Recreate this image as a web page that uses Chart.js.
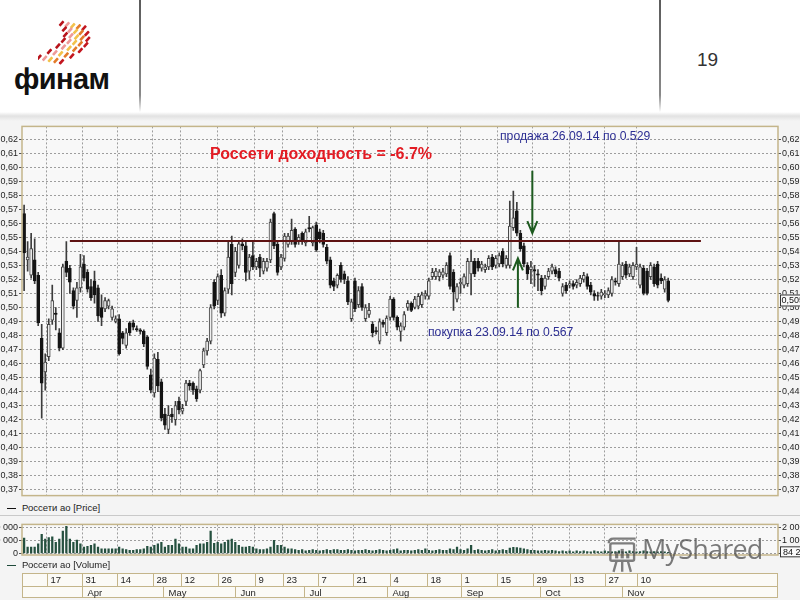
<!DOCTYPE html>
<html>
<head>
<meta charset="utf-8">
<script src="https://cdn.jsdelivr.net/npm/chart.js@4/dist/chart.umd.min.js"></script>
<style>
  html, body { margin: 0; padding: 0; background: #ffffff; }
  #page { position: relative; width: 800px; height: 600px; overflow: hidden; background: #ffffff;
          font-family: 'Liberation Sans', Arial, sans-serif; }
  .abs { position: absolute; }
  .vline { position: absolute; top: 0; width: 2px; height: 112px; background: linear-gradient(#5a5a5a, #8a8a8a 85%, rgba(140,140,140,0)); }
  #band { left: 0; top: 112px; width: 800px; height: 9px; background: linear-gradient(#ffffff, #e2e2e2 45%, #f4f4f4); }
  #panel { left: 0; top: 121px; width: 800px; height: 479px; background: #f4f4f4; }
  #pageNo { left: 697px; top: 49px; font-size: 19px; color: #333; }
  #brand { left: 14px; top: 63px; font-size: 29px; font-weight: bold; color: #111; letter-spacing: -0.6px; }
  #title { left: 210px; top: 145px; font-size: 16px; font-weight: bold; color: #e31b23; white-space: nowrap; }
  .note { font-size: 12.2px; color: #2d2f93; white-space: nowrap; }
  #sellNote { left: 500px; top: 129px; }
  #buyNote { left: 428px; top: 325px; }
  .legend { font-size: 9.5px; color: #222; white-space: nowrap; }
  .legend b { display: inline-block; width: 9px; height: 1.5px; vertical-align: middle; margin: 0 6px 0 0; }
  #legPrice { left: 7px; top: 502px; }
  #legVol { left: 7px; top: 559px; }
  #sep { left: 0; top: 515px; width: 800px; height: 1px; background: #c9c9c9; }
  #priceWrap { left: 0; top: 120px; }
  #volWrap { left: -32px; top: 518px; }
  #mark { left: 607px; top: 537px; opacity: 0.72; }
  #markText { left: 642px; top: 530px; font-family: 'Open Sans', 'DejaVu Sans', sans-serif; font-size: 27px; color: #4f4f4f; opacity: 0.75; letter-spacing: -0.8px; }
</style>
</head>
<body>
<div id="page">
  <div class="abs" id="panel"></div>
  <div class="abs" id="band"></div>
  <div class="vline" style="left:139px"></div>
  <div class="vline" style="left:659px"></div>

  <svg class="abs" id="emblem" style="left:38px;top:18px" width="58" height="48" viewBox="0 0 62 50"></svg>
  <div class="abs" id="brand">финам</div>
  <div class="abs" id="pageNo">19</div>

  <div class="abs" id="priceWrap"><canvas id="priceChart" width="800" height="382"></canvas></div>
  <div class="abs" id="sep"></div>
  <div class="abs legend" id="legPrice"><b style="background:#111"></b>Россети ао [Price]</div>
  <div class="abs" id="volWrap"><canvas id="volChart" width="864" height="82"></canvas></div>
  <div class="abs legend" id="legVol"><b style="background:#1f4a3a"></b>Россети ао [Volume]</div>

  <div class="abs" id="title">Россети доходность = -6.7%</div>
  <div class="abs note" id="sellNote">продажа 26.09.14 по 0.529</div>
  <div class="abs note" id="buyNote">покупка 23.09.14 по 0.567</div>

  <svg class="abs" id="mark" width="32" height="38" viewBox="0 0 40 48">
    <rect x="4" y="8" width="30" height="22" rx="2" fill="none" stroke="#4f4f4f" stroke-width="3"/>
    <path d="M2 8 Q2 2 8 2 L36 2" fill="none" stroke="#4f4f4f" stroke-width="3"/>
    <rect x="10" y="19" width="4" height="8" fill="#4f4f4f"/>
    <rect x="17" y="15" width="4" height="12" fill="#4f4f4f"/>
    <rect x="24" y="21" width="4" height="6" fill="#4f4f4f"/>
    <path d="M12 30 L8 44 M19 30 L19 44 M26 30 L30 44" stroke="#4f4f4f" stroke-width="3"/>
  </svg>
  <div class="abs" id="markText">MyShared</div>
</div>

<script>
// ---- Daily candles, Россети ао (trading-day index 0 = first session shown) ----
const candleOpen = [
  0.567,0.534,0.523,0.534,0.523,0.478,0.454,0.465,0.491,0.496,
  0.482,0.471,0.533,0.528,0.512,0.505,0.514,0.531,0.525,0.515,
  0.519,0.514,0.500,0.499,0.501,0.493,0.490,0.492,0.482,0.473,
  0.489,0.489,0.485,0.484,0.483,0.479,0.452,0.439,0.463,0.447,
  0.424,0.413,0.424,0.420,0.433,0.426,0.433,0.446,0.446,0.442,
  0.441,0.459,0.469,0.476,0.518,0.505,0.523,0.496,0.513,0.545,
  0.525,0.530,0.5455,0.544,0.526,0.537,0.529,0.536,0.526,0.528,
  0.534,0.567,0.545,0.529,0.535,0.545,0.547,0.556,0.547,0.553,
  0.546,0.557,0.546,0.559,0.554,0.553,0.543,0.534,0.519,0.516,
  0.530,0.524,0.519,0.492,0.519,0.502,0.515,0.492,0.495,0.488,
  0.4835,0.476,0.4895,0.482,0.493,0.506,0.493,0.483,0.486,0.500,
  0.503,0.500,0.501,0.502,0.508,0.508,0.522,0.522,0.522,0.523,
  0.524,0.537,0.525,0.506,0.517,0.516,0.517,0.524,0.533,0.533,
  0.528,0.527,0.529,0.536,0.530,0.531,0.540,0.530,0.530,0.557,
  0.569,0.553,0.544,0.530,0.527,0.527,0.524,0.521,0.515,0.522,
  0.526,0.527,0.526,0.510,0.516,0.516,0.517,0.516,0.517,0.520,
  0.522,0.516,0.510,0.5085,0.508,0.509,0.509,0.510,0.519,0.517,
  0.522,0.531,0.524,0.522,0.529,0.516,0.528,0.526,0.522,0.529,
  0.531,0.521,0.513,0.519
];
const candleHigh = [
  0.573,0.547,0.553,0.549,0.525,0.488,0.467,0.492,0.516,0.500,
  0.485,0.531,0.547,0.530,0.514,0.518,0.538,0.537,0.527,0.520,
  0.526,0.516,0.509,0.507,0.506,0.501,0.494,0.495,0.483,0.485,
  0.490,0.491,0.487,0.485,0.484,0.480,0.456,0.467,0.468,0.449,
  0.428,0.430,0.428,0.433,0.436,0.431,0.448,0.448,0.447,0.444,
  0.456,0.471,0.478,0.502,0.520,0.524,0.527,0.514,0.547,0.551,
  0.543,0.548,0.549,0.547,0.538,0.548,0.535,0.538,0.535,0.535,
  0.563,0.568,0.547,0.538,0.553,0.553,0.563,0.557,0.552,0.554,
  0.556,0.565,0.558,0.561,0.556,0.555,0.545,0.536,0.521,0.524,
  0.532,0.526,0.522,0.506,0.521,0.515,0.517,0.502,0.503,0.490,
  0.486,0.492,0.491,0.494,0.508,0.507,0.494,0.489,0.497,0.505,
  0.504,0.508,0.510,0.511,0.512,0.521,0.528,0.528,0.527,0.528,
  0.532,0.539,0.527,0.517,0.521,0.524,0.535,0.541,0.535,0.535,
  0.533,0.531,0.537,0.538,0.537,0.539,0.542,0.537,0.576,0.583,
  0.575,0.555,0.546,0.532,0.533,0.530,0.527,0.523,0.523,0.528,
  0.531,0.529,0.528,0.517,0.518,0.519,0.519,0.520,0.523,0.525,
  0.524,0.518,0.512,0.511,0.513,0.512,0.514,0.522,0.521,0.548,
  0.532,0.533,0.531,0.532,0.543,0.531,0.530,0.528,0.532,0.531,
  0.533,0.524,0.522,0.521
];
const candleLow = [
  0.512,0.526,0.521,0.517,0.487,0.421,0.441,0.462,0.488,0.484,
  0.469,0.470,0.522,0.510,0.499,0.493,0.511,0.519,0.511,0.505,
  0.503,0.490,0.487,0.497,0.499,0.491,0.489,0.466,0.474,0.471,
  0.480,0.484,0.483,0.481,0.472,0.456,0.439,0.436,0.440,0.419,
  0.413,0.410,0.418,0.416,0.424,0.424,0.430,0.441,0.438,0.433,
  0.439,0.457,0.466,0.474,0.499,0.502,0.493,0.494,0.510,0.509,
  0.522,0.528,0.541,0.519,0.520,0.527,0.527,0.522,0.524,0.526,
  0.532,0.542,0.523,0.527,0.533,0.543,0.545,0.543,0.545,0.545,
  0.544,0.554,0.544,0.540,0.546,0.543,0.531,0.514,0.512,0.514,
  0.518,0.517,0.502,0.490,0.497,0.500,0.498,0.490,0.493,0.479,
  0.481,0.474,0.486,0.480,0.491,0.491,0.484,0.476,0.484,0.498,
  0.497,0.499,0.499,0.500,0.506,0.506,0.520,0.520,0.519,0.521,
  0.522,0.513,0.498,0.504,0.510,0.514,0.515,0.509,0.522,0.526,
  0.526,0.525,0.527,0.527,0.528,0.529,0.529,0.528,0.528,0.555,
  0.551,0.540,0.529,0.520,0.517,0.515,0.512,0.509,0.513,0.520,
  0.524,0.522,0.519,0.508,0.510,0.514,0.513,0.514,0.515,0.518,
  0.513,0.509,0.505,0.505,0.506,0.507,0.507,0.508,0.516,0.515,
  0.520,0.521,0.522,0.520,0.527,0.514,0.509,0.509,0.520,0.515,
  0.514,0.517,0.511,0.504
];
const candleClose = [
  0.539,0.536,0.542,0.519,0.489,0.446,0.461,0.488,0.505,0.495,
  0.471,0.529,0.525,0.518,0.501,0.514,0.529,0.521,0.513,0.507,
  0.509,0.494,0.493,0.505,0.505,0.499,0.492,0.467,0.478,0.482,
  0.482,0.486,0.484,0.483,0.474,0.458,0.441,0.464,0.444,0.421,
  0.416,0.423,0.422,0.430,0.427,0.428,0.446,0.444,0.441,0.435,
  0.455,0.469,0.476,0.500,0.501,0.522,0.496,0.512,0.536,0.517,
  0.540,0.5455,0.544,0.525,0.536,0.529,0.533,0.528,0.533,0.533,
  0.561,0.544,0.525,0.536,0.551,0.551,0.555,0.545,0.550,0.547,
  0.554,0.556,0.557,0.541,0.549,0.545,0.533,0.516,0.515,0.523,
  0.520,0.520,0.504,0.504,0.499,0.512,0.500,0.500,0.498,0.482,
  0.4825,0.490,0.488,0.4925,0.506,0.493,0.486,0.487,0.495,0.503,
  0.498,0.506,0.508,0.509,0.510,0.519,0.525,0.526,0.5255,0.5255,
  0.530,0.515,0.511,0.515,0.518,0.522,0.533,0.533,0.524,0.528,
  0.531,0.529,0.535,0.529,0.535,0.537,0.531,0.535,0.558,0.564,
  0.553,0.542,0.531,0.524,0.529,0.526,0.523,0.512,0.521,0.526,
  0.529,0.524,0.521,0.515,0.512,0.517,0.515,0.518,0.521,0.523,
  0.515,0.511,0.508,0.508,0.511,0.510,0.512,0.520,0.518,0.531,
  0.530,0.523,0.529,0.530,0.531,0.529,0.510,0.510,0.530,0.517,
  0.516,0.519,0.520,0.505
];
// Daily volume, shares
const volume = [
  1170000,490000,490000,490000,730000,1460000,1100000,1220000,1270000,850000,
  1100000,1710000,2070000,1100000,850000,1020000,730000,490000,540000,610000,
  730000,490000,360000,360000,360000,360000,360000,490000,360000,290000,
  240000,240000,290000,290000,360000,540000,490000,610000,730000,850000,
  490000,610000,610000,1100000,730000,490000,490000,360000,360000,610000,
  730000,730000,850000,1710000,780000,850000,730000,850000,1020000,1100000,
  850000,610000,490000,490000,540000,490000,360000,290000,290000,360000,
  490000,1000000,610000,610000,490000,360000,360000,290000,240000,290000,
  190000,240000,290000,240000,190000,240000,290000,240000,290000,290000,
  240000,240000,290000,240000,190000,240000,240000,290000,240000,190000,
  240000,290000,240000,190000,240000,290000,360000,190000,240000,240000,
  190000,240000,290000,240000,360000,240000,190000,240000,290000,240000,
  240000,360000,290000,490000,290000,240000,360000,610000,240000,290000,
  240000,190000,240000,290000,190000,240000,290000,240000,410000,460000,
  440000,410000,360000,290000,240000,240000,190000,190000,240000,190000,
  240000,190000,150000,190000,150000,190000,120000,190000,150000,190000,
  150000,120000,190000,150000,120000,190000,150000,120000,150000,190000,
  150000,120000,190000,150000,120000,150000,190000,150000,120000,150000,
  120000,150000,120000,84250
];

// ---- Axis ticks ----
const priceTicks = [];
for (let k = 37; k <= 62; k++) priceTicks.push(k / 100);
const volumeTicks = [0, 1000000, 2000000];
// fortnightly session marks (trading-day index) and their day-of-month labels
const dayTickLabels = ['17','31','14','28','12','26','9','23','7','21','4','18','1','15','29','13','27','10'];
const dayTickIndex  = [6.5,16.5,26.5,36.5,44.5,55,65.5,73.5,83.5,93.5,104,114.5,124,134.5,144.5,155,165,174];
const monthLabels      = ['Apr','May','Jun','Jul','Aug','Sep','Oct','Nov'];
const monthStartIndex  = [16.5,39.5,60,79.5,103,124,146.5,170];

// ---- Trade annotations ----
const resistanceLevel = 0.5475;
const resistanceFrom = 13, resistanceTo = 192.3;
const buyMark  = { index: 140.3, from: 0.4998, to: 0.535 };
const sellMark = { index: 144.4, from: 0.5975, to: 0.553 };

const X_MIN = -0.6, X_MAX = 214.2;
const tickFont = { family: "'Liberation Sans', Arial, sans-serif", size: 9 };
const gridGrey = '#9d9d9d';
const frameTan = '#c4b58a';

// emblem strokes (logo)
(function () {
  const svg = document.getElementById('emblem');
  const cols = ['#b8141c', '#ee9a98', '#f3c24c', '#e37b2a', '#c3161f'];
  let html = '';
  for (let r = 0; r < 7; r++) {
    const shift = 14 * Math.sin(r / 6 * Math.PI) - r * 4;
    for (let c = 0; c < 5; c++) {
      const x = 22 + c * 6 + shift;
      const y = 4 + r * 6 + c * 1.2;
      html += `<rect x="${x.toFixed(1)}" y="${y.toFixed(1)}" width="6.5" height="2.8" rx="0.6" fill="${cols[c]}" transform="rotate(-48 ${(x + 3).toFixed(1)} ${(y + 1.4).toFixed(1)})"/>`;
    }
  }
  svg.innerHTML = html;
})();

const idx = candleOpen.map((_, i) => i);
const bodies = idx.map(i => ({ x: i, y: [candleOpen[i], candleClose[i]] }));
const wicks  = idx.map(i => ({ x: i, y: [candleLow[i], candleHigh[i]] }));
const levelLine = [{ x: resistanceFrom, y: resistanceLevel }, { x: resistanceTo, y: resistanceLevel }];
const volumeBars = idx.map(i => ({ x: i, y: volume[i] }));

const isUp = i => candleClose[i] >= candleOpen[i];
const fmtPrice = v => Number(v).toFixed(2).replace('.', ',');
const fmtVol = v => String(Math.round(v)).replace(/\B(?=(\d{3})+(?!\d))/g, ' ');

const frame = {
  id: 'frame',
  beforeDraw(chart) {
    const { ctx, chartArea: a } = chart;
    ctx.save();
    ctx.fillStyle = '#f8f8f8';
    ctx.fillRect(a.left, a.top, a.right - a.left, a.bottom - a.top);
    ctx.restore();
  },
  afterDraw(chart) {
    const { ctx, chartArea: a } = chart;
    ctx.save();
    ctx.strokeStyle = frameTan;
    ctx.lineWidth = 1.5;
    ctx.strokeRect(a.left, a.top, a.right - a.left, a.bottom - a.top);
    ctx.restore();
  }
};

function arrow(ctx, x, y0, y1) {
  const dir = y1 > y0 ? 1 : -1;
  ctx.beginPath();
  ctx.moveTo(x, y0); ctx.lineTo(x, y1);
  ctx.moveTo(x - 5, y1 - dir * 12); ctx.lineTo(x, y1); ctx.lineTo(x + 5, y1 - dir * 12);
  ctx.stroke();
}

const priceOverlay = {
  id: 'priceOverlay',
  afterDraw(chart) {
    const { ctx } = chart;
    const xs = chart.scales.x, ys = chart.scales.y;
    ctx.save();
    ctx.strokeStyle = '#1d5a1f';
    ctx.lineWidth = 2;
    arrow(ctx, xs.getPixelForValue(buyMark.index), ys.getPixelForValue(buyMark.from), ys.getPixelForValue(buyMark.to));
    arrow(ctx, xs.getPixelForValue(sellMark.index), ys.getPixelForValue(sellMark.from), ys.getPixelForValue(sellMark.to));
    // last close marker on the right axis
    const last = candleClose[candleClose.length - 1];
    const py = ys.getPixelForValue(last);
    const bx = chart.chartArea.right + 2;
    ctx.fillStyle = '#fafafa';
    ctx.fillRect(bx, py - 6, 24, 12);
    ctx.strokeStyle = '#333';
    ctx.lineWidth = 1;
    ctx.strokeRect(bx + 0.5, py - 5.5, 24, 11);
    ctx.fillStyle = '#111';
    ctx.font = "9px 'Liberation Sans', Arial";
    ctx.textBaseline = 'middle';
    ctx.fillText(last.toFixed(3).replace('.', ','), bx + 1.5, py + 0.5);
    ctx.restore();
  }
};

function yAxis(position, width, ticks, fmt, min, max, onArea) {
  return {
    position, min, max,
    afterBuildTicks: s => { s.ticks = ticks.map(v => ({ value: v })); },
    afterFit: s => { s.width = width; },
    ticks: { callback: v => fmt(v), font: tickFont, color: '#1e1e1e', padding: 1, autoSkip: false },
    grid: { color: gridGrey, drawOnChartArea: onArea, tickColor: '#555', tickLength: 3, tickBorderDash: [], lineWidth: 1 },
    border: { display: false, dash: [2, 2] }
  };
}
const xAxis = {
  type: 'linear', min: X_MIN, max: X_MAX, offset: false,
  afterBuildTicks: s => { s.ticks = dayTickIndex.map(v => ({ value: v })); },
  ticks: { display: false },
  grid: { color: gridGrey, drawTicks: false, offset: false },
  border: { display: false, dash: [2, 2] }
};

new Chart(document.getElementById('priceChart'), {
  type: 'bar',
  data: {
    datasets: [
      { type: 'line', data: levelLine, borderColor: '#5e1212', borderWidth: 2, pointRadius: 0, yAxisID: 'y', order: 0 },
      { data: bodies, yAxisID: 'y', order: 1, grouped: false, barThickness: 3, borderWidth: 1, borderSkipped: false,
        backgroundColor: c => isUp(c.dataIndex) ? '#efefef' : '#141414',
        borderColor: c => isUp(c.dataIndex) ? '#444444' : '#141414' },
      { data: wicks, yAxisID: 'y', order: 2, grouped: false, barThickness: 1, backgroundColor: '#3c3c3c', borderWidth: 0 }
    ]
  },
  options: {
    responsive: false, animation: false, events: [],
    layout: { padding: { top: 3, bottom: 5, left: 0, right: 0 } },
    plugins: { legend: { display: false }, tooltip: { enabled: false } },
    scales: {
      x: xAxis,
      y: yAxis('left', 22, priceTicks, fmtPrice, 0.3658, 0.6292, true),
      y2: yAxis('right', 22, priceTicks, fmtPrice, 0.3658, 0.6292, false)
    }
  },
  plugins: [frame, priceOverlay]
});

const stripPlugin = {
  id: 'dateStrip',
  afterDraw(chart) {
    const { ctx, chartArea: a } = chart;
    const xs = chart.scales.x;
    const top = a.bottom + 18, mid = top + 13, bot = mid + 12;
    ctx.save();
    ctx.fillStyle = '#fbfaf6';
    ctx.fillRect(a.left, top, a.right - a.left, bot - top);
    ctx.strokeStyle = frameTan;
    ctx.lineWidth = 1;
    ctx.strokeRect(a.left + 0.5, top + 0.5, a.right - a.left - 1, bot - top - 1);
    ctx.beginPath(); ctx.moveTo(a.left, mid + 0.5); ctx.lineTo(a.right, mid + 0.5); ctx.stroke();
    ctx.fillStyle = '#1e1e1e';
    ctx.font = "9.5px 'Liberation Sans', Arial";
    ctx.textBaseline = 'middle';
    dayTickIndex.forEach((v, k) => {
      const px = Math.round(xs.getPixelForValue(v)) + 0.5;
      ctx.beginPath(); ctx.moveTo(px, top); ctx.lineTo(px, mid); ctx.stroke();
      ctx.fillText(dayTickLabels[k], px + 3, top + 7);
    });
    monthStartIndex.forEach((v, k) => {
      const px = Math.round(xs.getPixelForValue(v)) + 0.5;
      ctx.beginPath(); ctx.moveTo(px, mid); ctx.lineTo(px, bot); ctx.stroke();
      ctx.fillText(monthLabels[k], px + 5, mid + 7);
    });
    // last volume marker on the right axis
    const lastV = volume[volume.length - 1];
    const py = chart.scales.y.getPixelForValue(lastV);
    const bx = a.right + 2;
    ctx.fillStyle = '#fafafa';
    ctx.fillRect(bx, py - 6, 40, 11);
    ctx.strokeStyle = '#333';
    ctx.strokeRect(bx + 0.5, py - 5.5, 40, 10);
    ctx.fillStyle = '#111';
    ctx.font = "9px 'Liberation Sans', Arial";
    ctx.fillText(fmtVol(lastV), bx + 3, py);
    ctx.restore();
  }
};

new Chart(document.getElementById('volChart'), {
  type: 'bar',
  data: {
    datasets: [
      { data: volumeBars, backgroundColor: '#25503f', barThickness: 1.6, borderWidth: 0, grouped: false }
    ]
  },
  options: {
    responsive: false, animation: false, events: [],
    layout: { padding: { top: 5, bottom: 45, left: 0, right: 0 } },
    plugins: { legend: { display: false }, tooltip: { enabled: false } },
    scales: {
      x: xAxis,
      y: yAxis('left', 54, volumeTicks, fmtVol, -120000, 2220000, true),
      y2: yAxis('right', 54, volumeTicks, fmtVol, -120000, 2220000, false)
    }
  },
  plugins: [frame, stripPlugin]
});
</script>
</body>
</html>
